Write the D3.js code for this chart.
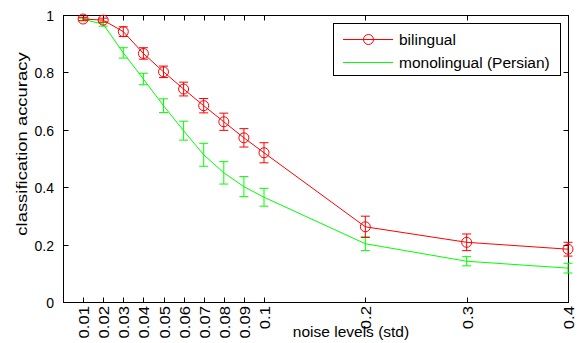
<!DOCTYPE html>
<html>
<head>
<meta charset="utf-8">
<script src="https://cdn.jsdelivr.net/npm/d3@7"></script>
<style>
  body { margin: 0; background: #fff; }
  svg { display: block; }
  text { font-family: "Liberation Sans", Arial, sans-serif; fill: #000; }
</style>
</head>
<body>
<script>
// ---- data ----
const noiseLevels = [0.01, 0.02, 0.03, 0.04, 0.05, 0.06, 0.07, 0.08, 0.09, 0.1, 0.2, 0.3, 0.4];
const xTickLabels = ["0.01","0.02","0.03","0.04","0.05","0.06","0.07","0.08","0.09","0.1","0.2","0.3","0.4"];
const bilingual    = [0.986, 0.982, 0.942, 0.866, 0.802, 0.742, 0.684, 0.628, 0.572, 0.520, 0.262, 0.208, 0.184];
const bilingualErr = [0.006, 0.007, 0.017, 0.020, 0.020, 0.024, 0.025, 0.030, 0.032, 0.035, 0.037, 0.029, 0.024];
const mono         = [0.985, 0.968, 0.868, 0.777, 0.684, 0.597, 0.513, 0.450, 0.402, 0.365, 0.203, 0.142, 0.118];
const monoErr      = [0.004, 0.007, 0.018, 0.020, 0.024, 0.033, 0.040, 0.039, 0.035, 0.031, 0.024, 0.016, 0.017];
const yTicks = [0, 0.2, 0.4, 0.6, 0.8, 1];
const yTickLabels = ["0", "0.2", "0.4", "0.6", "0.8", "1"];
const seriesNames = ["bilingual", "monolingual (Persian)"];
const axisLabels = { x: "noise levels (std)", y: "classification accuracy" };

// ---- layout ----
const W = 579, H = 343;
const L = 63, R = 568, T = 15, B = 302;
const RED = "#ff0000", GREEN = "#00ff00";
const STRETCH = 1.19; // vertical stretch of the source image's text

const svg = d3.select("body").append("svg").attr("width", W).attr("height", H);

const x = d3.scaleLinear().domain([0, 0.1, 0.4]).range([L, 264, R]);
const y = d3.scaleLinear().domain([0, 1]).range([B, T]);

// box
svg.append("rect").attr("x", L + 0.5).attr("y", T + 0.5)
  .attr("width", R - L).attr("height", B - T)
  .attr("fill", "none").attr("stroke", "#000").attr("stroke-width", 1);

const tl = 5;
// x ticks (bottom + top, inward)
const gx = svg.append("g");
noiseLevels.forEach((v, i) => {
  const px = Math.round(x(v)) + 0.5;
  gx.append("line").attr("x1", px).attr("x2", px).attr("y1", B + 0.5).attr("y2", B + 0.5 - tl).attr("stroke", "#000");
  gx.append("line").attr("x1", px).attr("x2", px).attr("y1", T + 0.5).attr("y2", T + 0.5 + tl).attr("stroke", "#000");
  gx.append("text")
    .attr("transform", `translate(${px + 5},${B + 4}) scale(1,${STRETCH}) rotate(-90)`)
    .attr("text-anchor", "end")
    .attr("font-size", 14)
    .text(xTickLabels[i]);
});
// y ticks (left + right)
const gy = svg.append("g");
yTicks.forEach((v, i) => {
  const py = Math.round(y(v)) + 0.5;
  gy.append("line").attr("x1", L + 0.5).attr("x2", L + 0.5 + tl).attr("y1", py).attr("y2", py).attr("stroke", "#000");
  gy.append("line").attr("x1", R + 0.5).attr("x2", R + 0.5 - tl).attr("y1", py).attr("y2", py).attr("stroke", "#000");
  gy.append("text")
    .attr("x", L - 9).attr("y", py + 5)
    .attr("text-anchor", "end")
    .attr("font-size", 14)
    .text(yTickLabels[i]);
});

// axis labels
svg.append("text").attr("x", 351).attr("y", 337).attr("text-anchor", "middle")
  .attr("font-size", 15.5).text(axisLabels.x);
svg.append("text").attr("transform", `translate(27,144) scale(1,${STRETCH}) rotate(-90)`)
  .attr("text-anchor", "middle").attr("font-size", 15.5).text(axisLabels.y);

// series
function drawSeries(vals, errs, color, markers) {
  const g = svg.append("g");
  const line = d3.line().x((d, i) => x(noiseLevels[i])).y(d => y(d));
  g.append("path").datum(vals).attr("d", line)
    .attr("fill", "none").attr("stroke", color).attr("stroke-width", 1);
  const cap = 4.5;
  vals.forEach((v, i) => {
    const px = x(noiseLevels[i]);
    const y1 = y(v - errs[i]), y2 = y(v + errs[i]);
    g.append("line").attr("x1", px).attr("x2", px).attr("y1", y1).attr("y2", y2).attr("stroke", color);
    g.append("line").attr("x1", px - cap).attr("x2", px + cap).attr("y1", y1).attr("y2", y1).attr("stroke", color);
    g.append("line").attr("x1", px - cap).attr("x2", px + cap).attr("y1", y2).attr("y2", y2).attr("stroke", color);
    if (markers) {
      g.append("circle").attr("cx", px).attr("cy", y(v)).attr("r", 5)
        .attr("fill", "none").attr("stroke", color);
    }
  });
}
drawSeries(mono, monoErr, GREEN, false);
drawSeries(bilingual, bilingualErr, RED, true);

// legend
const lg = svg.append("g");
lg.append("rect").attr("x", 333.5).attr("y", 23.5).attr("width", 227).attr("height", 52)
  .attr("fill", "#fff").attr("stroke", "#000");
const legendY = [39, 62];
const legendColors = [RED, GREEN];
seriesNames.forEach((n, i) => {
  lg.append("line").attr("x1", 343).attr("x2", 393).attr("y1", legendY[i] + 0.5).attr("y2", legendY[i] + 0.5)
    .attr("stroke", legendColors[i]);
  if (i === 0) lg.append("circle").attr("cx", 368.5).attr("cy", legendY[i] + 0.5).attr("r", 5)
    .attr("fill", "none").attr("stroke", RED);
  lg.append("text").attr("x", 399).attr("y", legendY[i] + 5.5).attr("font-size", 15.5).text(n);
});
</script>
</body>
</html>
